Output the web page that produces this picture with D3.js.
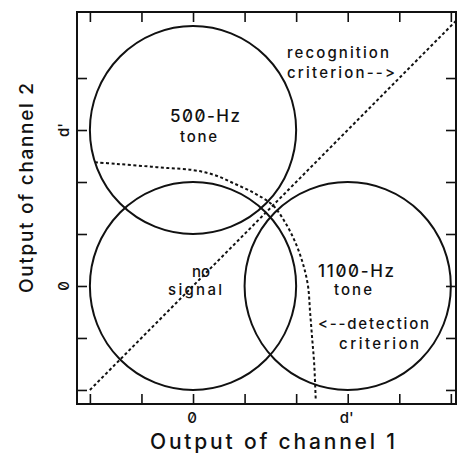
<!DOCTYPE html>
<html>
<head>
<meta charset="utf-8">
<script src="https://cdn.jsdelivr.net/npm/d3@7"></script>
<style>
  body { margin: 0; background: #fff; }
  svg text { font-family: Inter, "DejaVu Sans", sans-serif; font-weight: 500; fill: #111;
             font-feature-settings: "zero" 1, "calt" 0, "liga" 0; font-variant-ligatures: none; }
</style>
</head>
<body>
<script>
// tick positions (in d' units) and the two labelled ones
const xTicks = [-2, -1, 0, 1, 2, 3, 4, 5];
const yTicks = [-2, -1, 0, 1, 2, 3, 4];
const labelTicks = [0, 3];
const labelTexts = ["0", "d'"];

// the three signal distributions (equal-probability circles)
const circleNames = ["no signal", "500-Hz tone", "1100-Hz tone"];
const circleCx = [0, 0, 3];
const circleCy = [0, 3, 0];
const circleR = [2, 2, 2];

// recognition criterion (diagonal)
const recogX = [-2, 5.3];
const recogY = [-2, 5.3];

// detection criterion
const detX = [-1.9, -1.5, -1.0, -0.5, 0.0, 0.4, 0.8, 1.2, 1.55, 1.8, 2.0, 2.14, 2.23, 2.27, 2.31, 2.35, 2.38];
const detY = [2.38, 2.35, 2.31, 2.27, 2.23, 2.14, 1.97, 1.78, 1.55, 1.2, 0.8, 0.4, 0.0, -0.5, -1.0, -1.5, -2.2];

const width = 457, height = 454;
const mLeft = 77, mRight = 456, mTop = 12, mBottom = 404;

const svg = d3.select('body').append('svg')
  .attr('width', width)
  .attr('height', height);

const x = d3.scaleLinear().domain([-2.25, 5.1]).range([mLeft, mRight]);
const y = d3.scaleLinear().domain([-2.27, 5.27]).range([mBottom, mTop]);

svg.append('defs').append('clipPath').attr('id', 'plot')
  .append('rect')
  .attr('x', mLeft).attr('y', mTop)
  .attr('width', mRight - mLeft).attr('height', mBottom - mTop);

const g = svg.append('g').attr('clip-path', 'url(#plot)');

// circles
g.selectAll('ellipse').data(circleNames).enter()
  .append('ellipse')
  .attr('cx', (d, i) => x(circleCx[i]))
  .attr('cy', (d, i) => y(circleCy[i]))
  .attr('rx', (d, i) => x(circleR[i]) - x(0))
  .attr('ry', (d, i) => y(0) - y(circleR[i]))
  .attr('fill', 'none')
  .attr('stroke', '#111')
  .attr('stroke-width', 2);

const line = d3.line().x(d => x(d[0])).y(d => y(d[1]));

g.append('path')
  .attr('d', line(recogX.map((v, i) => [v, recogY[i]])))
  .attr('fill', 'none')
  .attr('stroke', '#111')
  .attr('stroke-width', 2)
  .attr('stroke-dasharray', '3,2.5');

g.append('path')
  .attr('d', d3.line().curve(d3.curveCatmullRom).x(d => x(d[0])).y(d => y(d[1]))(detX.map((v, i) => [v, detY[i]])))
  .attr('fill', 'none')
  .attr('stroke', '#111')
  .attr('stroke-width', 2)
  .attr('stroke-dasharray', '3,2.5');

// axes: ticks pointing inward on all four sides
const tick = 10;
svg.append('g').attr('transform', `translate(0,${mBottom})`)
  .call(d3.axisBottom(x).tickValues(xTicks).tickSize(-tick).tickFormat(''));
svg.append('g').attr('transform', `translate(0,${mTop})`)
  .call(d3.axisTop(x).tickValues(xTicks).tickSize(-tick).tickFormat(''));
svg.append('g').attr('transform', `translate(${mLeft},0)`)
  .call(d3.axisLeft(y).tickValues(yTicks).tickSize(-tick).tickFormat(''));
svg.append('g').attr('transform', `translate(${mRight},0)`)
  .call(d3.axisRight(y).tickValues(yTicks).tickSize(-tick).tickFormat(''));
svg.selectAll('.domain').remove();
svg.selectAll('.tick line').attr('stroke', '#111').attr('stroke-width', 1.6);

svg.append('rect')
  .attr('x', mLeft).attr('y', mTop)
  .attr('width', mRight - mLeft).attr('height', mBottom - mTop)
  .attr('fill', 'none').attr('stroke', '#111').attr('stroke-width', 2);

// tick labels
svg.selectAll('.xlab').data(labelTicks).enter().append('text')
  .attr('class', 'xlab')
  .attr('x', d => x(d) - 1)
  .attr('y', 423)
  .attr('text-anchor', 'middle')
  .style('font-size', '15px')
  .text((d, i) => labelTexts[i]);

svg.selectAll('.ylab').data(labelTicks).enter().append('text')
  .attr('class', 'ylab')
  .attr('transform', d => `translate(69,${y(d)}) rotate(-90)`)
  .attr('text-anchor', 'middle')
  .style('font-size', '15px')
  .text((d, i) => labelTexts[i]);

// axis titles
svg.append('text')
  .attr('x', 150).attr('y', 449)
  .attr('textLength', 245).attr('lengthAdjust', 'spacing')
  .style('font-size', '21px')
  .text('Output of channel 1');

svg.append('text')
  .attr('transform', 'translate(33,293) rotate(-90)')
  .attr('textLength', 210).attr('lengthAdjust', 'spacing')
  .style('font-size', '19px')
  .text('Output of channel 2');

// annotations: text, left x, baseline y, font size, width (null = natural)
const notes = [
  ['500-Hz', 170, 122, 17, 70], ['tone', 180, 142, 15, 37],
  ['no', 192, 277, 15, null], ['signal', 168, 295, 15, 54],
  ['1100-Hz', 318, 277, 17, 76], ['tone', 334, 295, 15, 38],
  ['<--detection', 318, 329, 15, 111], ['criterion', 339, 349, 15, 80],
  ['recognition', 287, 58, 15, 102], ['criterion-->', 287, 78, 15, 108]
];
const noteText = svg.selectAll('.note').data(notes).enter().append('text')
  .attr('class', 'note')
  .attr('x', d => d[1]).attr('y', d => d[2])
  .style('font-size', d => d[3] + 'px')
  .text(d => d[0]);
noteText.filter(d => d[4] != null)
  .attr('textLength', d => d[4]).attr('lengthAdjust', 'spacing');
</script>
</body>
</html>
